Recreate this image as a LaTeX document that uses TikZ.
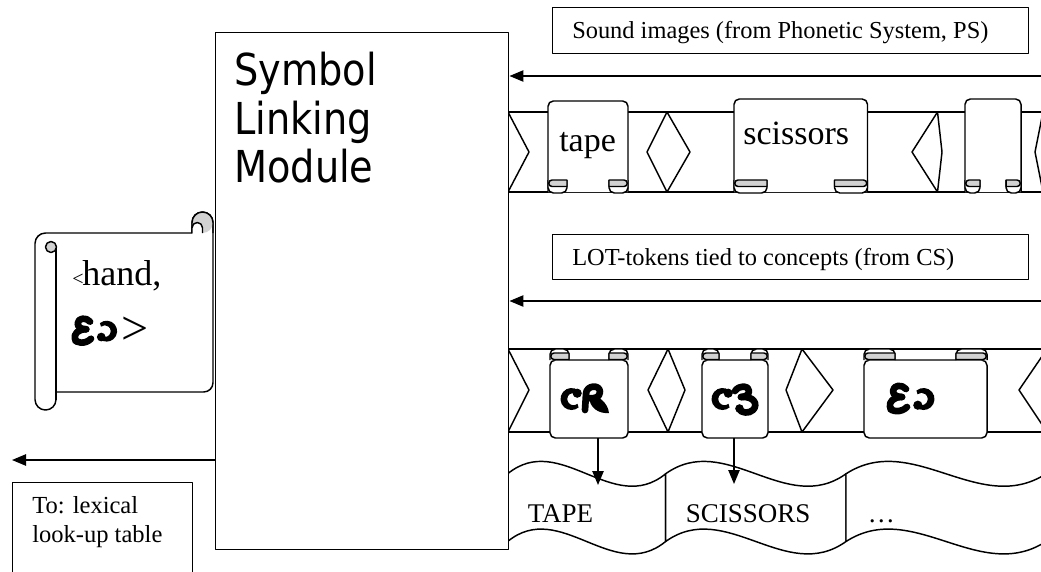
\documentclass[tikz,border=0pt]{standalone}
\usepackage{fontspec}
\setmainfont{Liberation Serif}
\newfontfamily\modulefont[FakeStretch=0.87]{DejaVu Sans}
\usetikzlibrary{arrows.meta}

\tikzset{
  ln/.style={line width=1.1pt, line join=round},
  boxed/.style={draw, ln, fill=white, inner sep=0pt},
  arr/.style={ln, -{Triangle[length=10.5pt, width=8.5pt]}},
  plain/.style={inner sep=0pt, anchor=base west},
  rollfill/.style={ln, fill=gray!35},
  orn/.style={line width=5pt, line cap=round, line join=round},
  % heavy open crescent (opening to the right)
  crescent/.pic={
    \fill (18.57,8.57) arc[start angle=-50, end angle=-310, radius=11]
      -- (17.49,21.75) arc[start angle=50, end angle=310, radius=6.2] -- cycle;
    \fill (17.2,11.2) circle[radius=4.6];
  },
  % ornamental token: crescent with a script R and a leaf
  ornA/.pic={
    \pic {crescent};
    \draw[orn] (25,28) -- (26,12) .. controls (26,3) and (40,2) .. (40,10) .. controls (40,16) and (33,17) .. (28,16);
    \fill (29,14) .. controls (38,12) and (48,21) .. (49,31) .. controls (39,32) and (29,26) .. (29,14) -- cycle;
  },
  % ornamental token: crescent with a swash three
  ornB/.pic={
    \pic {crescent};
    \draw[orn] (24,9) .. controls (28,3) and (38,3) .. (38,9) .. controls (38,13) and (34,15) .. (30,15);
    \draw[orn] (30,15) .. controls (44,14) and (47,23) .. (42,28) .. controls (38,32) and (30,31) .. (28,27);
    \fill (28.5,26.5) circle[radius=4.3];
  },
  % ornamental token: swash E with a reversed crescent
  ornC/.pic={
    \draw[orn] (19,7) .. controls (15,2) and (6,3) .. (6,9) .. controls (6,13) and (10,15) .. (15,15);
    \draw[orn] (15,15) .. controls (6,15) and (2,20) .. (3,25) .. controls (4,30) and (14,31) .. (20,25);
    \fill (2,21) .. controls (-3,28) and (2,33) .. (8,31) .. controls (3,29) and (2,26) .. (2,21) -- cycle;
    \fill (29.43,8.57) arc[start angle=-130, end angle=130, radius=11]
      -- (30.51,21.75) arc[start angle=130, end angle=-130, radius=6.2] -- cycle;
    \fill (30.8,23.2) circle[radius=4.6];
  },
}

% token card whose rolls hang below (x1, x2, top, roll width)
\newcommand\downcard[4]{%
  \draw[ln, fill=white, rounded corners=4pt] (#1,192) -- (#1,#3) -- (#2,#3) -- (#2,192);
  \draw[ln, fill=white, rounded corners=4pt] (#1,180) -- (#1,193) -- ({#1+#4},193) -- ({#1+#4},180);
  \draw[rollfill] ({#1+#4},180) -- ({#1+4},180) arc[start angle=270, end angle=90, radius=3.25] -- ({#1+#4},186.5) -- cycle;
  \draw[ln, fill=white, rounded corners=4pt] (#2,180) -- (#2,193) -- ({#2-#4},193) -- ({#2-#4},180);
  \draw[rollfill] ({#2-#4},180) -- ({#2-4},180) arc[start angle=270, end angle=450, radius=3.25] -- ({#2-#4},186.5) -- cycle;
}
% token card whose rolls sit on top (x1, x2, bottom, roll width)
\newcommand\upcard[4]{%
  \draw[ln, fill=white, rounded corners=4pt] (#1,360) -- (#1,#3) -- (#2,#3) -- (#2,360) -- cycle;
  \draw[ln, fill=white, rounded corners=4pt] ({#1+#4},360) -- ({#1+#4},349) -- (#1,349) -- (#1,360);
  \draw[ln, fill=white, rounded corners=4pt] ({#2-#4},360) -- ({#2-#4},349) -- (#2,349) -- (#2,360);
  \draw[rollfill] ({#1+#4},353) -- ({#1+4},353) arc[start angle=270, end angle=90, radius=3.25] -- ({#1+#4},359.5) -- cycle;
  \draw[rollfill] ({#2-#4},353) -- ({#2-4},353) arc[start angle=270, end angle=450, radius=3.25] -- ({#2-#4},359.5) -- cycle;
}
% one cell of the wavy tape (left x, right x)
\newcommand\wavecell[2]{%
  \draw[ln, fill=white] (#1,473.8) .. controls ({#1+(#2-#1)/3},430.8) and ({#1+2*(#2-#1)/3},516.8) .. (#2,473.8)
    -- (#2,541.5) .. controls ({#1+2*(#2-#1)/3},584.5) and ({#1+(#2-#1)/3},498.5) .. (#1,541.5) -- cycle;
}

\begin{document}
\begin{tikzpicture}[x=0.75pt, y=-0.75pt]
\useasboundingbox (0,0) rectangle (1041,571);
\clip (0,0) rectangle (1041,571);

% ---------- sound-image tape ----------
\draw[ln] (508,112) -- (1041,112);
\draw[ln] (508,192) -- (1041,192);
\draw[ln] (508,112) -- (529,152) -- (508,192);
\draw[ln, fill=white] (647,152) -- (667,112) -- (690,152) -- (667,192) -- cycle;
\draw[ln, fill=white] (912,152) -- (937.5,112) -- (942,152) -- (937.5,192) -- cycle;
\draw[ln, fill=white] (1035,152) -- (1043,112) -- (1060,152) -- (1043,192) -- cycle;
\downcard{548}{628}{101}{19}
\downcard{734}{867.5}{99}{33}
\downcard{965}{1021}{99}{15}
\node[plain, font=\fontsize{25.5}{25.5}\selectfont] (wtape) at (559,151) {tape};
\node[plain, font=\fontsize{25.5}{25.5}\selectfont] (wsciss) at (743,144) {scissors};

% ---------- LOT-token tape ----------
\draw[ln] (508,349) -- (1041,349);
\draw[ln] (508,432) -- (1041,432);
\draw[ln] (508,349) -- (529,390) -- (508,432);
\draw[ln, fill=white] (648,390) -- (668,349) -- (685,390) -- (668,432) -- cycle;
\draw[ln, fill=white] (786,390) -- (802,349) -- (833,390) -- (802,432) -- cycle;
\draw[ln, fill=white] (1019,390) -- (1047,349) -- (1070,390) -- (1047,432) -- cycle;
\upcard{550}{628}{438}{19}
\upcard{702}{768}{438}{17}
\upcard{864}{987}{438}{31}
\pic (tok1) at (560,382) {ornA};
\pic (tok2) at (711,382) {ornB};
\pic (tok3) at (887,382) {ornC};

% ---------- wavy look-up tape ----------
\wavecell{507.6}{665.6}
\wavecell{665.6}{846}
\wavecell{846}{1046}
\node[plain, font=\fontsize{20.25}{20.25}\selectfont] (cTAPE) at (527.6,522.5) {TAPE};
\node[plain, font=\fontsize{20.25}{20.25}\selectfont] (cSCISS) at (685.6,522.5) {SCISSORS};
\node[plain, font=\fontsize{20.25}{20.25}\selectfont] (cmore) at (867.5,522.5) {\dots};
\coordinate (tok1out) at (598,438);
\coordinate (tok2out) at (734,438);
\coordinate (cell1in) at (598,485);
\coordinate (cell2in) at (734,484);
\draw[arr] (tok1out) -- (cell1in);
\draw[arr] (tok2out) -- (cell2in);

% ---------- caption boxes ----------
\node[boxed, anchor=north west, minimum width=357pt, minimum height=34.5pt] (ps) at (552,7) {};
\node[plain, font=\fontsize{18.3}{18.3}\selectfont] (pstext) at (572,38) {Sound images (from Phonetic System, PS)};
\node[boxed, anchor=north west, minimum width=357pt, minimum height=33.75pt] (cs) at (552,234) {};
\node[plain, font=\fontsize{18.3}{18.3}\selectfont] (cstext) at (572,265) {LOT-tokens tied to concepts (from CS)};

% ---------- linking module ----------
\node[boxed, anchor=north west, minimum width=219.75pt, minimum height=387.75pt] (slm) at (215,32) {};
\node[plain, font=\modulefont\fontsize{33}{33}\selectfont] (slm1) at (234,85) {Symbol};
\node[plain, font=\modulefont\fontsize{33}{33}\selectfont] (slm2) at (234,134) {Linking};
\node[plain, font=\modulefont\fontsize{33}{33}\selectfont] (slm3) at (234,182) {Module};
\coordinate (psfeed) at (1041,76);
\coordinate (csfeed) at (1041,301);
\draw[arr] (psfeed) -- (psfeed -| slm.east);
\draw[arr] (csfeed) -- (csfeed -| slm.east);

% ---------- output to the lexical table ----------
\coordinate (lexfeed) at (12,460);
\draw[arr] (lexfeed -| slm.west) -- (lexfeed);
\node[boxed, anchor=north west, minimum width=135pt, minimum height=75pt] (lex) at (12,482) {};
\node[plain, font=\fontsize{18.4}{18.4}\selectfont] (lex1) at (32,513) {To: lexical};
\node[plain, font=\fontsize{18.4}{18.4}\selectfont] (lex2) at (32,542) {look-up table};

% ---------- linked pair scroll ----------
\draw[ln, fill=white] (56,392) [rounded corners=7pt] -- (213,392) [sharp corners] -- (213,222.5)
  arc[start angle=0, end angle=-180, radius=10.5] -- (192,233) -- (45.5,233)
  arc[start angle=-90, end angle=-180, radius=10.5] -- (35,399.5)
  arc[start angle=180, end angle=0, radius=10.5] -- cycle;
\fill[gray!35] (202.5,222.5) circle[radius=10.5];
\draw[ln] (213,233) -- (213,222.5) arc[start angle=0, end angle=-180, radius=10.5] -- (192,233);
\draw[ln, fill=white] (192,233) -- (192,227.75) arc[start angle=180, end angle=360, radius=5.25] -- (202.5,233);
\draw[ln] (56,246) -- (56,399.5);
\draw[ln, fill=gray!35] (51,247) circle[radius=5.5];
\node[plain, font=\fontsize{15}{15}\selectfont] (lt) at (72,285) {<};
\node[plain, font=\fontsize{27}{27}\selectfont] (hand) at (82,285) {hand,};
\pic[scale=0.95] (pairtok) at (72,315) {ornC};
\node[plain, font=\fontsize{36}{36}\selectfont] (gt) at (121,344) {>};
\end{tikzpicture}
\end{document}
